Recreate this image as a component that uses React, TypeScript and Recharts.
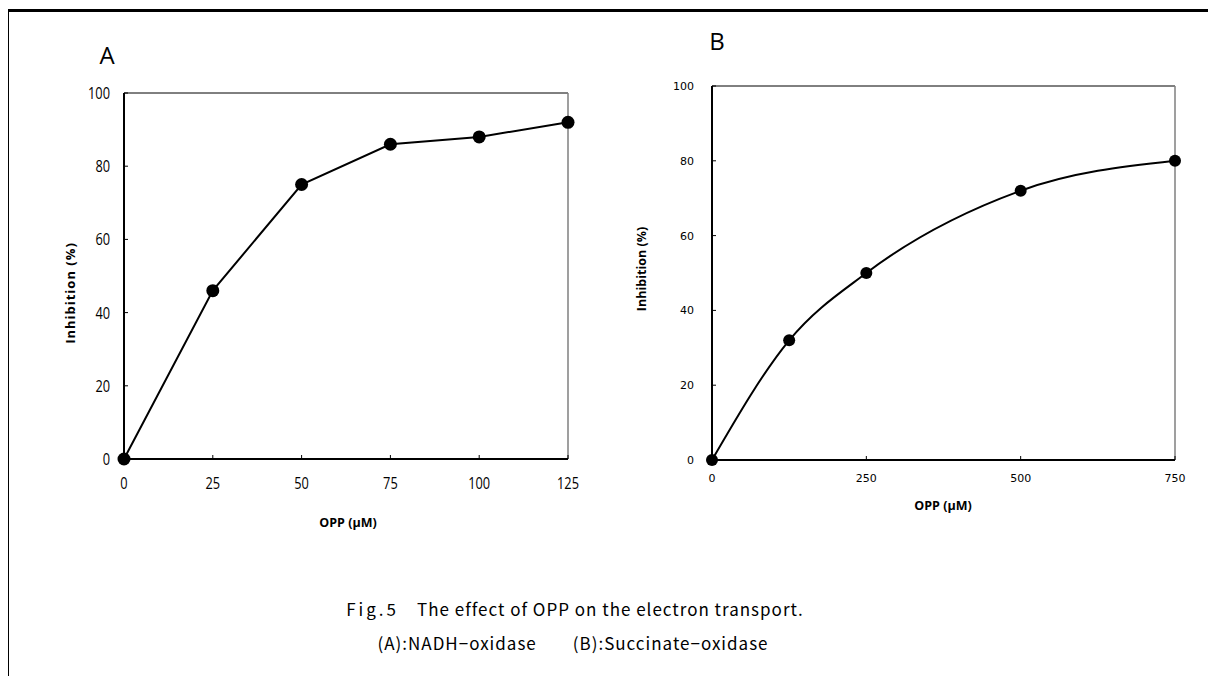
import React from 'react';
import { LineChart, Line, XAxis, YAxis, ReferenceLine } from 'recharts';

const oppA = [0, 25, 50, 75, 100, 125];
const inhibitionA = [0, 46, 75, 86, 88, 92];
const oppB = [0, 125, 250, 500, 750];
const inhibitionB = [0, 32, 50, 72, 80];
const xTicksA = [0, 25, 50, 75, 100, 125];
const xTicksB = [0, 250, 500, 750];
const yTicks = [0, 20, 40, 60, 80, 100];

const dataA = oppA.map((x, i) => ({ x, y: inhibitionA[i] }));
const dataB = oppB.map((x, i) => ({ x, y: inhibitionB[i] }));

const labelFont = "'Open Sans', 'DejaVu Sans', sans-serif";
const captionFont = "'Noto Sans CJK JP', 'Noto Sans', sans-serif";

const NarrowTick = (props: any) => {
  const { x, y, payload, textAnchor, orientation } = props;
  const dy = orientation === 'bottom' ? 12 : 6;
  return (
    <text
      transform={`translate(${x},${y}) scale(0.8,1)`}
      dy={dy}
      textAnchor={textAnchor}
      style={{ fontSize: 16 }}
      fontFamily="'Open Sans', sans-serif"
      fill="#000"
    >
      {payload.value}
    </text>
  );
};

export default function App() {
  return (
    <div style={{ position: 'relative', width: 1216, height: 684, margin: -8, background: '#fff', overflow: 'hidden' }}>
      <div style={{ position: 'absolute', left: 0, top: 0 }}>
        <LineChart width={620} height={560} data={dataA} margin={{ top: 93, right: 52, bottom: 71, left: 84 }}>
          <XAxis
            dataKey="x"
            type="number"
            domain={[0, 125]}
            ticks={xTicksA}
            height={30}
            axisLine={{ stroke: '#000', strokeWidth: 2 }}
            tickLine={{ stroke: '#000', strokeWidth: 1 }}
            tickSize={-4}
            tickMargin={22}
            tick={<NarrowTick orientation="bottom" />}
          />
          <YAxis
            type="number"
            domain={[0, 100]}
            ticks={yTicks}
            width={40}
            axisLine={{ stroke: '#000', strokeWidth: 2 }}
            tickLine={{ stroke: '#000', strokeWidth: 1 }}
            tickSize={-4}
            tickMargin={18}
            tick={<NarrowTick orientation="left" />}
          />
          <ReferenceLine y={100} stroke="#000" strokeWidth={1} />
          <ReferenceLine x={125} stroke="#7f7f7f" strokeWidth={1.5} />
          <Line
            dataKey="y"
            type="linear"
            stroke="#000"
            strokeWidth={2}
            dot={{ r: 6.5, fill: '#000', stroke: '#000', strokeWidth: 0 }}
            activeDot={false}
            isAnimationActive={false}
          />
        </LineChart>
      </div>
      <div style={{ position: 'absolute', left: 600, top: 0 }}>
        <LineChart width={616} height={560} data={dataB} margin={{ top: 86, right: 41, bottom: 70, left: 72 }}>
          <XAxis
            dataKey="x"
            type="number"
            domain={[0, 750]}
            ticks={xTicksB}
            height={30}
            axisLine={{ stroke: '#000', strokeWidth: 2 }}
            tickLine={{ stroke: '#000', strokeWidth: 1 }}
            tickSize={-4}
            tickMargin={18}
            tick={{ fill: '#000', fontSize: 11, fontFamily: "'DejaVu Sans', sans-serif" }}
          />
          <YAxis
            type="number"
            domain={[0, 100]}
            ticks={yTicks}
            width={40}
            axisLine={{ stroke: '#000', strokeWidth: 2 }}
            tickLine={{ stroke: '#000', strokeWidth: 1 }}
            tickSize={-4}
            tickMargin={22}
            tick={{ fill: '#000', fontSize: 11, fontFamily: "'DejaVu Sans', sans-serif" }}
          />
          <ReferenceLine y={100} stroke="#000" strokeWidth={1} />
          <ReferenceLine x={750} stroke="#7f7f7f" strokeWidth={1.5} />
          <Line
            dataKey="y"
            type="monotone"
            stroke="#000"
            strokeWidth={2}
            dot={{ r: 6, fill: '#000', stroke: '#000', strokeWidth: 0 }}
            activeDot={false}
            isAnimationActive={false}
          />
        </LineChart>
      </div>
      <svg width={1216} height={684} style={{ position: 'absolute', left: 0, top: 0, pointerEvents: 'none' }}>
        <rect x={6} y={9} width={3} height={680} fill="#000" />
        <rect x={6} y={9} width={1215} height={3} fill="#000" />
        <text x={107} y={54} fontSize={24} fontFamily="'Open Sans', sans-serif" textAnchor="middle" dominantBaseline="central" fill="#000">A</text>
        <text x={717} y={40} fontSize={24} fontFamily="'Open Sans', sans-serif" textAnchor="middle" dominantBaseline="central" fill="#000">B</text>
        <text transform="translate(70,293) rotate(-90)" fontSize={13} fontWeight="bold" letterSpacing={1} fontFamily={labelFont} textAnchor="middle" dominantBaseline="central" fill="#000">Inhibition (%)</text>
        <text transform="translate(641,269) rotate(-90)" fontSize={12.5} fontWeight="bold" fontFamily={labelFont} textAnchor="middle" dominantBaseline="central" fill="#000">Inhibition (%)</text>
        <text x={348} y={522} fontSize={12.5} fontWeight="bold" fontFamily={labelFont} textAnchor="middle" dominantBaseline="central" fill="#000">OPP (μM)</text>
        <text x={943} y={505} fontSize={12.5} fontWeight="bold" fontFamily={labelFont} textAnchor="middle" dominantBaseline="central" fill="#000">OPP (μM)</text>
        <text x={575} y={608} fontSize={17} letterSpacing={1} fontFamily={captionFont} textAnchor="middle" dominantBaseline="central" fill="#000">
          <tspan letterSpacing={3}>Fig.5</tspan>
          <tspan>{'\u3000The effect of OPP on the electron transport.'}</tspan>
        </text>
        <text x={573} y={642} fontSize={17} letterSpacing={1} fontFamily={captionFont} textAnchor="middle" dominantBaseline="central" fill="#000">
          {'(A):NADH\u2212oxidase\u3000\u3000(B):Succinate\u2212oxidase'}
        </text>
      </svg>
    </div>
  );
}
